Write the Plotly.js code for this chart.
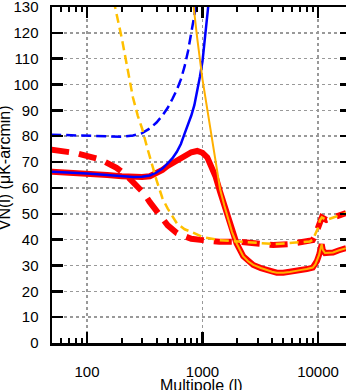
<!DOCTYPE html>
<html>
<head>
<meta charset="utf-8">
<script src="https://cdn.plot.ly/plotly-3.0.1.min.js"></script>
<style>html,body{margin:0;padding:0;overflow:hidden;background:#fff}#chart{width:352px;height:390px}</style>
</head>
<body>
<div id="chart"></div>
<script>
// Combined (solid red) noise curve
var redSolidL = [49,70,100,150,200,250,300,350,400,450,500,600,700,800,900,1000,1100,1200,1300,1420,1550,1670,1800,1970,2250,2500,2750,3200,3600,4000,4400,5000,5700,6500,7000,8000,9000,9500,9800,10200,10500,10770,11000,11500,12500,13500,15000,17500];
var redSolidN = [66.3,66.0,65.6,65.0,64.5,64.2,64.2,64.5,65.5,67.0,68.5,70.8,72.6,73.8,74.3,73.6,71.8,68.5,64.3,58.5,53.0,47.6,43.0,38.6,33.6,31.5,30.2,29.0,28.2,27.6,27.2,27.2,27.5,27.8,28.2,28.6,29.2,30.5,31.8,34.0,36.5,38.2,36.0,34.8,34.9,35.0,35.8,36.7];
// Combined (dashed red) noise curve
var redDashL = [49,80,130,180,220,270,310,350,400,450,500,600,700,800,1000,1400,2000,3000,4100,5500,7000,8500,9000,9600,10000,10400,10800,11800,13000,14500,17500];
var redDashN = [74.8,73.5,71.0,67.8,64.8,61.0,58.0,54.5,51.0,48.0,45.5,42.5,41.0,40.3,39.8,39.2,39.2,38.6,37.9,38.2,38.8,39.2,39.8,42.4,44.5,47.5,48.6,47.6,48.3,49.1,50.3];
// Low-frequency channel (blue)
var blueSolidL = [49,70,100,150,200,250,300,350,400,450,500,550,600,650,700,750,800,850,900,950,1000,1050,1100,1150];
var blueSolidN = [66.3,66.0,65.6,65.0,64.5,64.2,64.3,64.8,66.0,67.5,69.5,71.5,74.0,77.0,81.0,84.5,88.0,92.0,97.0,103.0,109.0,117.0,126.0,135.0];
var blueDashL = [49,100,150,200,250,300,350,400,450,500,550,600,650,700,750,800,850,900];
var blueDashN = [80.6,80.2,79.9,79.8,80.3,81.2,83.0,85.3,88.0,91.0,94.5,98.0,102.0,107.0,113.0,120.0,126.0,133.0];
// High-frequency channel (orange / yellow)
var orangeSolidL = [800,830,900,1000,1100,1200,1300,1420,1550,1670,1800,1970,2250,2500,2750,3200,3600,4000,4400,5000,5700,6500,7000,8000,9000,9500,9800,10200,10500,10770,11000,11500,12500,13500,15000,17500];
var orangeSolidN = [138,131,118,102,90,79.5,70,59.5,53.0,47.6,43.0,38.6,33.6,31.5,30.2,29.0,28.2,27.6,27.2,27.2,27.5,27.8,28.2,28.6,29.2,30.5,31.8,34.0,36.5,38.2,36.0,34.8,34.9,35.0,35.8,36.7];
var yellowDashL = [165,175,200,225,250,275,300,330,360,400,450,500,600,700,800,1000,1400,2000,3000,4100,5500,7000,8500,9000,9600,10000,10400,10800,11800,13000,14500,17500];
var yellowDashN = [138,130,118,106,95,88,83,76,70,63,56,52,46.3,44.0,43.0,41.0,39.8,39.3,38.8,38.3,38.6,38.9,39.3,39.9,42.4,44.5,47.5,48.6,47.6,48.3,49.1,50.3];

var xMajor = [100,1000,10000];
var xMajorText = ['100','1000','10000'];
var xMinor = [50,60,70,80,90,200,300,400,500,600,700,800,900,2000,3000,4000,5000,6000,7000,8000,9000];
var xTitle = 'Multipole (l)';
var yTitle = 'VN(l) (μK-arcmin)';

var traces = [
  {x: redSolidL, y: redSolidN, mode:'lines', line:{color:'#ff0000', width:6}, hoverinfo:'skip'},
  {x: redDashL, y: redDashN, mode:'lines', line:{color:'#ff0000', width:6, dash:'18px,10px'}, hoverinfo:'skip'},
  {x: blueSolidL, y: blueSolidN, mode:'lines', line:{color:'#0000ff', width:2.5}, hoverinfo:'skip'},
  {x: blueDashL, y: blueDashN, mode:'lines', line:{color:'#0000ff', width:2.5, dash:'10px,5px'}, hoverinfo:'skip'},
  {x: orangeSolidL, y: orangeSolidN, mode:'lines', line:{color:'#ffb000', width:2}, hoverinfo:'skip'},
  {x: yellowDashL, y: yellowDashN, mode:'lines', line:{color:'#ffc000', width:2.5, dash:'9px,5px'}, hoverinfo:'skip'}
];

var fontFam = 'Liberation Sans, Arial, sans-serif';
var layout = {
  width: 352, height: 390,
  margin: {l:52, r:1, t:7, b:47},
  showlegend: false,
  paper_bgcolor:'#fff', plot_bgcolor:'#fff',
  font: {family: fontFam, size: 15, color:'#000'},
  xaxis: {
    type:'log', range:[Math.log10(49.8), Math.log10(19300)],
    tickmode:'array', tickvals: xMajor, ticktext: xMajorText,
    ticks:'inside', ticklen:11, tickwidth:2.5, tickcolor:'#000',
    showline:true, linecolor:'#000', linewidth:2.5, mirror:'ticks',
    showgrid:true, gridcolor:'#999', griddash:'dot', gridwidth:1.5,
    zeroline:false, ticklabelstandoff: 13,
    minor: {tickmode:'array', tickvals: xMinor, ticks:'inside', ticklen:5, tickwidth:2, tickcolor:'#000', showgrid:false},
    automargin:false
  },
  yaxis: {
    range:[0,130], dtick:10, tick0:0,
    ticks:'inside', ticklen:11, tickwidth:2.5, tickcolor:'#000',
    showline:true, linecolor:'#000', linewidth:2.5, mirror:'ticks',
    showgrid:true, gridcolor:'#999', griddash:'dot', gridwidth:1.5,
    zeroline:false, ticklabelstandoff: 8, ticklabeloverflow:'allow',
    automargin:false
  },
  annotations: [{
    text: yTitle, textangle: -90, showarrow:false,
    xref:'paper', yref:'paper', x:0, y:0.52, xanchor:'center', yanchor:'middle',
    xshift: -48, font:{size:16, family: fontFam}
  }, {
    text: xTitle, showarrow:false,
    xref:'paper', yref:'paper', x:0.5, y:0, xanchor:'center', yanchor:'middle',
    yshift: -42, font:{size:16, family: fontFam}
  }]
};
Plotly.newPlot('chart', traces, layout, {staticPlot:true, displayModeBar:false});
</script>
</body>
</html>
